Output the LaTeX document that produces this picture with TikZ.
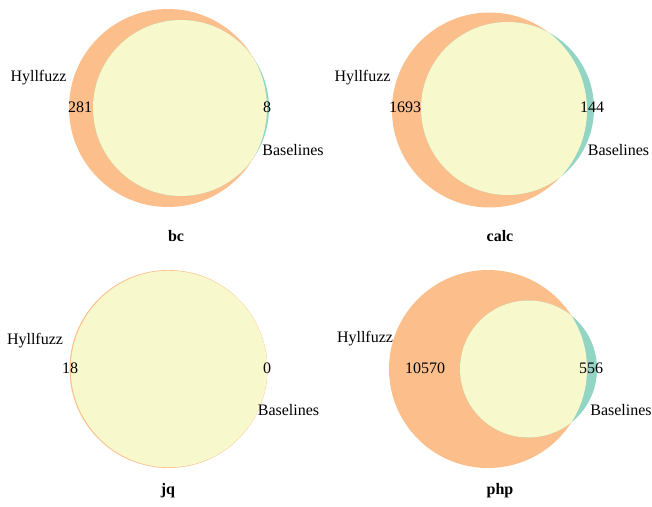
\documentclass[tikz,border=0pt]{standalone}
\usepackage{fontspec}
\setmainfont{Liberation Serif}
\definecolor{hyl}{RGB}{252,190,138}
\definecolor{bas}{RGB}{146,213,197}
\definecolor{both}{RGB}{247,248,204}
\tikzset{
  lbl/.style={font=\fontsize{12}{14}\selectfont, inner sep=0pt},
  ttl/.style={font=\fontsize{12}{14}\selectfont\bfseries, inner sep=0pt},
}
\newcommand{\venn}[7]{% #1 name, #2 hx, #3 hy, #4 hr, #5 bx, #6 by, #7 br
  \fill[hyl] (#2,#3) circle[radius=#4];
  \fill[bas] (#5,#6) circle[radius=#7];
  \begin{scope}
    \clip (#2,#3) circle[radius=#4];
    \fill[both] (#5,#6) circle[radius=#7];
  \end{scope}
  \node[inner sep=0pt, minimum size=0pt] (#1H) at (#2,#3) {};
  \node[inner sep=0pt, minimum size=0pt] (#1B) at (#5,#6) {};
}
\newcommand{\vennsub}[7]{% Baselines fully inside Hyllfuzz
  \fill[hyl] (#2,#3) circle[radius=#4];
  \fill[both] (#5,#6) circle[radius=#7];
  \node[inner sep=0pt, minimum size=0pt] (#1H) at (#2,#3) {};
  \node[inner sep=0pt, minimum size=0pt] (#1B) at (#5,#6) {};
}
\begin{document}
\begin{tikzpicture}[x=0.75pt,y=-0.75pt]
\useasboundingbox (0,0) rectangle (652,506);
% bc
\venn{bc}{168}{108}{99}{181}{108}{88}
\node[lbl] (bcHl) at (38.5,78) {Hyllfuzz};
\node[lbl] (bcHn) at (80,107) {281};
\node[lbl] (bcBn) at (267,107) {8};
\node[lbl] (bcBl) at (293,150) {Baselines};
\node[ttl] (bcT) at (176,236) {bc};
% calc
\venn{calc}{489.5}{110}{97.5}{507.5}{108.5}{86.5}
\node[lbl] (calcHl) at (362.5,78) {Hyllfuzz};
\node[lbl] (calcHn) at (405,107) {1693};
\node[lbl] (calcBn) at (592,107) {144};
\node[lbl] (calcBl) at (618.5,150) {Baselines};
\node[ttl] (calcT) at (500,236) {calc};
% jq
\vennsub{jq}{168.5}{369}{99}{169}{369}{98.3}
\node[lbl] (jqHl) at (35,341) {Hyllfuzz};
\node[lbl] (jqHn) at (70,368) {18};
\node[lbl] (jqBn) at (267,368) {0};
\node[lbl] (jqBl) at (288.5,410) {Baselines};
\node[ttl] (jqT) at (168,491) {jq};
% php
\venn{php}{488}{369}{99}{528.5}{369}{68.5}
\node[lbl] (phpHl) at (365,339) {Hyllfuzz};
\node[lbl] (phpHn) at (425,368) {10570};
\node[lbl] (phpBn) at (591,368) {556};
\node[lbl] (phpBl) at (621,410) {Baselines};
\node[ttl] (phpT) at (500,491) {php};
\end{tikzpicture}
\end{document}
